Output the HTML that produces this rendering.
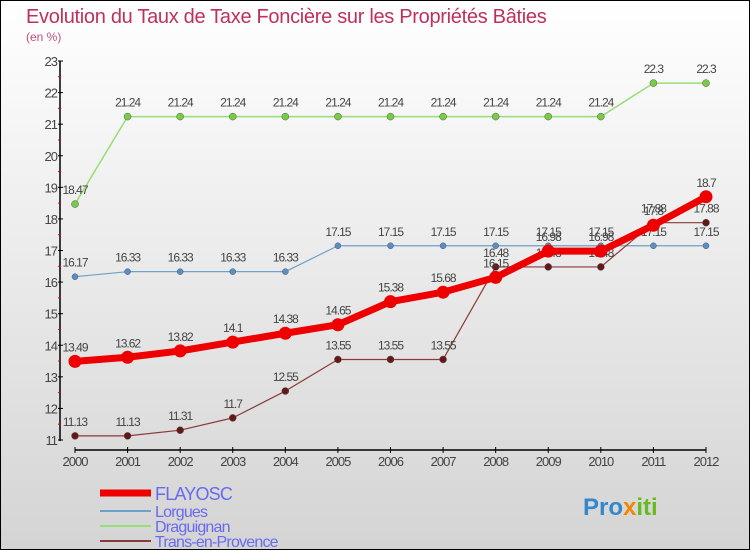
<!DOCTYPE html>
<html><head><meta charset="utf-8"><style>
body{margin:0;width:750px;height:550px;overflow:hidden;font-family:"Liberation Sans",sans-serif}
#wrap{position:absolute;left:0;top:0;width:748px;height:548px;border:1px solid #000;background:linear-gradient(#fff,#d4d4d4)}
</style></head><body>
<div id="wrap">
<svg id="chart" width="750" height="550" style="position:absolute;left:-1px;top:-1px"></svg>
</div>
<script>
const years=[2000,2001,2002,2003,2004,2005,2006,2007,2008,2009,2010,2011,2012];
const yTicks=[11,12,13,14,15,16,17,18,19,20,21,22,23];
const flayosc=[13.49,13.62,13.82,14.1,14.38,14.65,15.38,15.68,16.15,16.98,16.98,17.8,18.7];
const lorgues=[16.17,16.33,16.33,16.33,16.33,17.15,17.15,17.15,17.15,17.15,17.15,17.15,17.15];
const draguignan=[18.47,21.24,21.24,21.24,21.24,21.24,21.24,21.24,21.24,21.24,21.24,22.3,22.3];
const trans=[11.13,11.13,11.31,11.7,12.55,13.55,13.55,13.55,16.48,16.48,16.48,17.88,17.88];
const NS="http://www.w3.org/2000/svg",svg=document.getElementById('chart');
const X=i=>75+i*(706-75)/12, Y=v=>440-(v-11)*(440-61)/12;
function mk(t,a,p){const e=document.createElementNS(NS,t);for(const k in a)e.setAttribute(k,a[k]);(p||svg).appendChild(e);return e;}
let t=mk('text',{x:26,y:23,'font-size':20,fill:'#c0305e','letter-spacing':-0.3});t.textContent='Evolution du Taux de Taxe Foncière sur les Propriétés Bâties';

t=mk('text',{x:26,y:41,'font-size':12,fill:'#c0507a'});t.textContent='(en %)';

let a=mk('line',{x1:60,y1:61,x2:60,y2:441,stroke:'#000','stroke-width':1.5});

a=mk('line',{x1:75,y1:450,x2:706,y2:450,stroke:'#000','stroke-width':1.5});

yTicks.forEach((v,i)=>{mk('line',{x1:58,y1:Y(v),x2:63,y2:Y(v),stroke:'#000'});
 if(i<yTicks.length-1)mk('line',{x1:58,y1:Y(v+0.5),x2:61,y2:Y(v+0.5),stroke:'#e00'});
 const l=mk('text',{x:57,y:Y(v)+5,'font-size':13,fill:'#444','text-anchor':'end','letter-spacing':-1});l.textContent=v;
 });
years.forEach((yr,i)=>{mk('line',{x1:X(i),y1:447,x2:X(i),y2:453,stroke:'#000'});
 const l=mk('text',{x:X(i),y:466,'font-size':13,fill:'#444','text-anchor':'middle','letter-spacing':-1});l.textContent=yr;
 });
function series(d,col,w,r,dot,name){
 const g=mk('g',{});
 mk('polyline',{points:d.map((v,i)=>X(i)+','+Y(v)).join(' '),fill:'none',stroke:col,'stroke-width':w,'stroke-linejoin':'round'},g);
 d.forEach((v,i)=>{const c=mk('circle',{cx:X(i),cy:Y(v),r:r,fill:dot,stroke:w>3?'none':'#555','stroke-width':0.5},g);
  
  const l=mk('text',{x:X(i),y:Y(v)-10,'font-size':12,fill:'#444','text-anchor':'middle','letter-spacing':-1},g);l.textContent=v;
  });
}
series(draguignan,'#99dd77',1.5,3.5,'#77cc44','draguignan');
series(lorgues,'#6fa0c8',1.2,3,'#5590c8','lorgues');
series(trans,'#8a3a3a',1.2,3.5,'#661818','trans-en-provence');
series(flayosc,'#ee0000',7,6.5,'#ee0000','flayosc');
const legNames=['FLAYOSC','Lorgues','Draguignan','Trans-en-Provence'];
const legCols=['#ee0000','#6fa0c8','#99dd77','#8a3a3a'];
legNames.forEach((n,i)=>{const y=493+i*15;
 const ln=mk('line',{x1:100,y1:y+(i?3:0),x2:151,y2:y+(i?3:0),stroke:legCols[i],'stroke-width':i?2:7});
 
 const l=mk('text',{x:155,y:y+(i?9:7),'font-size':i?16:18,fill:'#6a6aee','letter-spacing':-0.8});l.textContent=n;
 });
const lg=mk('text',{x:583,y:515,'font-size':24,'font-weight':'bold',fill:'#3388cc'});
lg.innerHTML='<tspan fill="#3388cc">Pro</tspan><tspan fill="#ee8800">x</tspan><tspan fill="#66bb22">iti</tspan>';

</script>
</body></html>
